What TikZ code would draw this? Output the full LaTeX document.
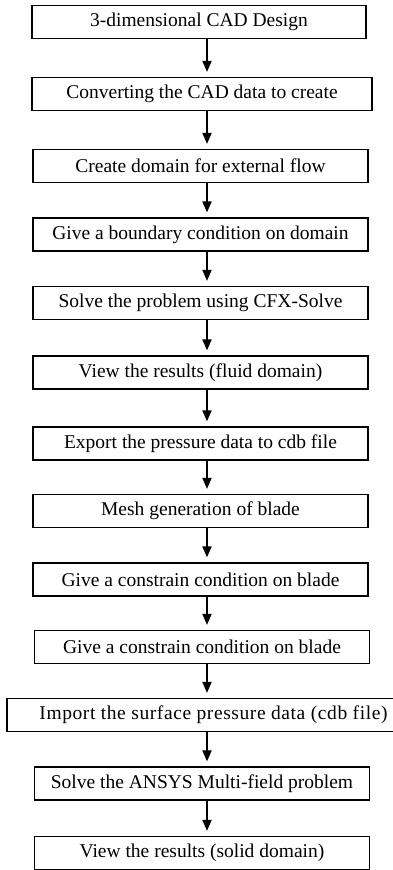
\documentclass[tikz,border=0pt]{standalone}
\usepackage{fontspec}
\setmainfont{Liberation Serif}
\usetikzlibrary{arrows.meta,positioning}

\begin{document}
\begin{tikzpicture}[x=1pt,y=-1pt]
  \tikzset{
  box/.style={draw,line width=1.2pt,minimum width=335pt,minimum height=33pt,inner sep=0pt,font=\fontsize{19.5}{22}\selectfont},
  arr/.style={line width=1.8pt,-{Triangle[length=11pt,width=9pt]},shorten >=5pt},
  }
  \useasboundingbox (0,0) rectangle (393,870);
  % the steps
  \node[box,minimum width=334pt] (s1) at (199, 22) {3-dimensional CAD Design};
  \node[box,minimum width=340pt] (s2) at (202, 94) {Converting the CAD data to create};
  \node[box] (s3) at (200.5, 166) {Create domain for external flow};
  \node[box] (s4) at (200.5, 234.5) {Give a boundary condition on domain};
  \node[box] (s5) at (200.5, 303) {Solve the problem using CFX-Solve};
  \node[box] (s6) at (200.5, 372.5) {View the results (fluid domain)};
  \node[box] (s7) at (200.5, 443.5) {Export the pressure data to cdb file};
  \node[box] (s8) at (200.5, 511) {Mesh generation of blade};
  \node[box] (s9) at (200.5, 579.5) {Give a constrain condition on blade};
  \node[box] (s10) at (202, 647) {Give a constrain condition on blade};
  \node[box,minimum width=413pt] (s11) at (213.5, 715) {\addfontfeature{LetterSpace=3}Import the surface pressure data (cdb file)};
  \node[box] (s12) at (202, 783.5) {Solve the ANSYS Multi-field problem};
  \node[box] (s13) at (202, 853) {View the results (solid domain)};

  % the arrows between the steps
  \coordinate (ax) at (207,0);
  \draw[arr] (s1.south -| ax) -- (s2.north -| ax);
  \draw[arr] (s2.south -| ax) -- (s3.north -| ax);
  \draw[arr] (s3.south -| ax) -- (s4.north -| ax);
  \draw[arr] (s4.south -| ax) -- (s5.north -| ax);
  \draw[arr] (s5.south -| ax) -- (s6.north -| ax);
  \draw[arr] (s6.south -| ax) -- (s7.north -| ax);
  \draw[arr] (s7.south -| ax) -- (s8.north -| ax);
  \draw[arr] (s8.south -| ax) -- (s9.north -| ax);
  \draw[arr] (s9.south -| ax) -- (s10.north -| ax);
  \draw[arr] (s10.south -| ax) -- (s11.north -| ax);
  \draw[arr] (s11.south -| ax) -- (s12.north -| ax);
  \draw[arr] (s12.south -| ax) -- (s13.north -| ax);
\end{tikzpicture}
\end{document}
